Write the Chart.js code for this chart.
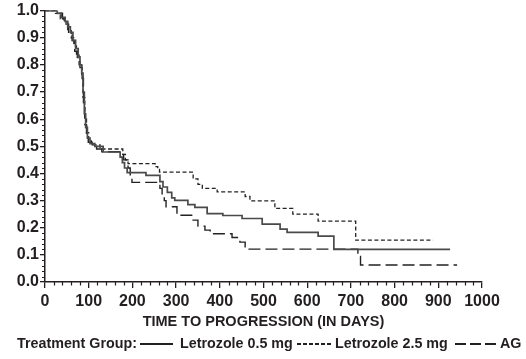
<!DOCTYPE html>
<html>
<head>
<meta charset="utf-8">
<script src="https://cdn.jsdelivr.net/npm/chart.js@4.4.1/dist/chart.umd.min.js"></script>
<style>
html,body{margin:0;padding:0;background:#fff;}
#wrap{position:relative;width:526px;height:359px;overflow:hidden;}
#c{position:absolute;left:0;top:0;}
.lg{position:absolute;top:335px;font:bold 14.3px "Liberation Sans",Arial,sans-serif;color:#231f20;white-space:nowrap;line-height:17px;}
.ln{position:absolute;top:343px;height:1.5px;}
</style>
</head>
<body>
<div id="wrap">
<canvas id="c" width="526" height="359"></canvas>
<span class="lg" style="left:17px">Treatment Group:</span>
<span class="ln" style="left:140px;width:33px;background:#231f20"></span>
<span class="lg" style="left:180px">Letrozole 0.5 mg</span>
<span class="ln" style="left:297px;width:36px;background:repeating-linear-gradient(90deg,#231f20 0 4px,transparent 4px 6px)"></span>
<span class="lg" style="left:335px">Letrozole 2.5 mg</span>
<span class="ln" style="left:455px;width:42px;background:repeating-linear-gradient(90deg,#231f20 0 11px,transparent 11px 15px)"></span>
<span class="lg" style="left:500px">AG</span>
</div>
<script>
// ---- data (days, proportion progression-free) ----
const let05Days = [0,28,37,46,52,58,64,70,76,80,84,87,90,93,97,103,114,133,172,177,182,188,231,263,270,280,290,297,327,343,371,407,451,497,538,554,625,661,927];
const let05Surv = [1.0,0.99,0.975,0.96,0.94,0.92,0.89,0.86,0.83,0.80,0.77,0.70,0.62,0.57,0.53,0.51,0.50,0.479,0.46,0.44,0.42,0.403,0.393,0.37,0.35,0.33,0.31,0.301,0.285,0.275,0.252,0.245,0.234,0.213,0.195,0.183,0.169,0.12,0.12];

const let25Days = [0,24,35,44,52,60,66,72,78,84,87,91,95,100,106,126,178,184,190,252,258,262,339,350,360,394,458,469,526,567,625,711,888];
const let25Surv = [1.0,0.99,0.97,0.955,0.93,0.90,0.87,0.84,0.80,0.76,0.68,0.60,0.55,0.52,0.505,0.49,0.47,0.45,0.436,0.425,0.415,0.405,0.38,0.36,0.345,0.332,0.315,0.299,0.271,0.25,0.224,0.154,0.154];

const agDays = [0,33,40,48,54,62,68,74,80,85,88,91,95,99,108,118,130,170,180,190,195,199,263,268,273,277,302,339,350,366,378,428,446,458,462,716,722,943];
const agSurv = [1.0,0.99,0.97,0.95,0.92,0.89,0.85,0.82,0.79,0.75,0.66,0.58,0.54,0.515,0.50,0.49,0.48,0.47,0.45,0.42,0.39,0.367,0.345,0.32,0.30,0.277,0.246,0.228,0.206,0.191,0.178,0.164,0.147,0.124,0.121,0.094,0.0625,0.0625];

const seriesNames = ['Letrozole 0.5 mg','Letrozole 2.5 mg','AG'];
const xMin = 0, xMax = 1000, xMajor = 100, xMinor = 20;
const yMin = 0, yMax = 1, yMajor = 0.1, yMinorCount = 50;
const xTitle = 'TIME TO PROGRESSION (IN DAYS)';

const toPts = (d, s) => d.map((x, i) => ({x: x, y: s[i]}));
const ink = '#231f20';
const tickFont = {family: '"Liberation Sans", Arial, sans-serif', size: 16, weight: 'bold'};

const minorTicks = {
  id: 'minorTicks',
  afterDraw(chart) {
    const ctx = chart.ctx, xs = chart.scales.x, ys = chart.scales.y;
    ctx.save();
    ctx.strokeStyle = ink; ctx.lineWidth = 1.2;
    ctx.beginPath();
    for (let v = xMin; v <= xMax; v += xMinor) {
      if (v % xMajor === 0) continue;
      const px = Math.round(xs.getPixelForValue(v)) + 0.5;
      ctx.moveTo(px, ys.bottom); ctx.lineTo(px, ys.bottom + 3.5);
    }
    for (let i = 0; i <= yMinorCount; i++) {
      if (i % 5 === 0) continue;
      const py = Math.round(ys.getPixelForValue(i / yMinorCount)) + 0.5;
      ctx.moveTo(xs.left, py); ctx.lineTo(xs.left - 3, py);
    }
    ctx.stroke();
    ctx.restore();
  }
};

new Chart(document.getElementById('c'), {
  type: 'line',
  data: {
    datasets: [
      {label: seriesNames[0], data: toPts(let05Days, let05Surv), stepped: 'before', borderColor: '#4a4a4a', borderWidth: 1.7, pointRadius: 0, fill: false},
      {label: seriesNames[1], data: toPts(let25Days, let25Surv), stepped: 'before', borderColor: '#222', borderWidth: 1.3, borderDash: [4, 2.5], pointRadius: 0, fill: false},
      {label: seriesNames[2], data: toPts(agDays, agSurv), stepped: 'before', borderColor: '#222', borderWidth: 1.4, borderDash: [12, 5], pointRadius: 0, fill: false}
    ]
  },
  options: {
    responsive: false,
    animation: false,
    layout: {padding: {left: 0, right: 44, top: 10, bottom: 27}},
    plugins: {legend: {display: false}, tooltip: {enabled: false}},
    scales: {
      x: {
        type: 'linear', min: xMin, max: xMax,
        afterFit(s) { s.height = 50; },
        ticks: {stepSize: xMajor, color: ink, font: tickFont, padding: 4, maxRotation: 0, autoSkip: false, callback: v => String(v)},
        grid: {drawOnChartArea: false, drawTicks: true, tickLength: 6, color: ink, lineWidth: 1.3},
        border: {display: true, color: ink, width: 1.5},
        title: {display: true, text: xTitle, color: ink, font: {family: '"Liberation Sans", Arial, sans-serif', size: 14.5, weight: 'bold'}, padding: {top: 0, bottom: 1}}
      },
      y: {
        type: 'linear', min: yMin, max: yMax,
        afterFit(s) { s.width = 45; },
        ticks: {stepSize: yMajor, color: ink, font: tickFont, padding: 1, callback: v => Number(v).toFixed(1)},
        grid: {drawOnChartArea: false, drawTicks: true, tickLength: 5, color: ink, lineWidth: 1.3},
        border: {display: true, color: ink, width: 1.5}
      }
    }
  },
  plugins: [minorTicks]
});
</script>
</body>
</html>
